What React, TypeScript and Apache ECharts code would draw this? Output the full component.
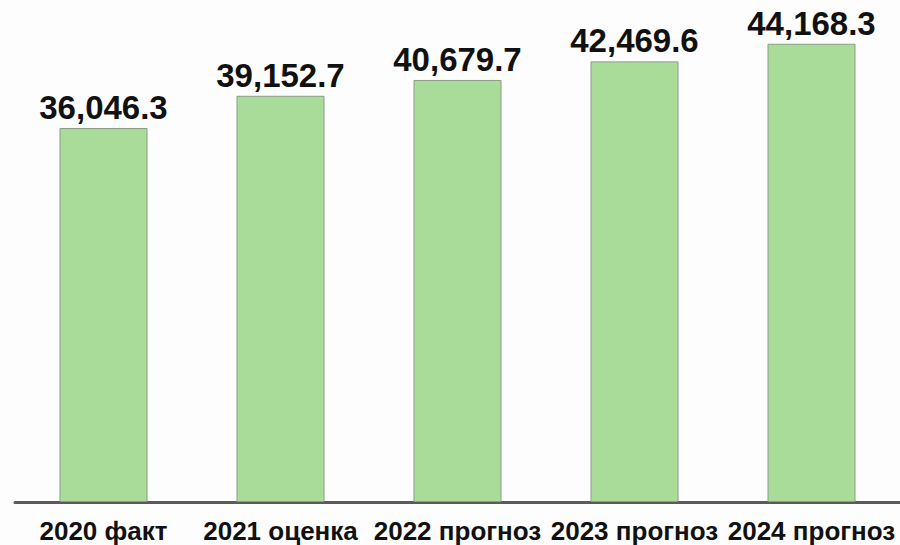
import React, { useEffect, useRef } from "react";
import * as echarts from "echarts";

const categories = ["2020 факт", "2021 оценка", "2022 прогноз", "2023 прогноз", "2024 прогноз"];
const values = [36046.3, 39152.7, 40679.7, 42469.6, 44168.3];

export default function App() {
  const ref = useRef<HTMLDivElement>(null);
  useEffect(() => {
    const chart = echarts.init(ref.current!, null, { renderer: "svg" });
    chart.setOption({
      animation: false,
      backgroundColor: "#fdfdfd",
      grid: { left: 15, right: 0, top: 4, bottom: 43, containLabel: false },
      xAxis: {
        type: "category",
        data: categories,
        axisLine: { show: true, onZero: false, lineStyle: { color: "#5a5a5a", width: 3 } },
        axisTick: { show: false },
        axisLabel: {
          color: "#111",
          fontFamily: "Liberation Sans, Arial, sans-serif",
          fontWeight: "bold",
          fontSize: 26,
          margin: 16,
          interval: 0,
        },
      },
      yAxis: {
        type: "value",
        min: 0,
        max: 48000,
        axisLine: { show: false },
        axisTick: { show: false },
        axisLabel: { show: false },
        splitLine: { show: false },
      },
      series: [
        {
          type: "bar",
          data: values,
          barWidth: 88,
          itemStyle: { color: "#aadc99", borderColor: "#8c9a88", borderWidth: 1 },
          label: {
            show: true,
            position: "top",
            distance: 4,
            color: "#111",
            fontFamily: "Liberation Sans, Arial, sans-serif",
            fontWeight: "bold",
            fontSize: 33,
            formatter: (p: any) =>
              p.value.toLocaleString("en-US", { minimumFractionDigits: 1, maximumFractionDigits: 1 }),
          },
        },
      ],
    });
    return () => chart.dispose();
  }, []);
  return (
    <div
      ref={ref}
      style={{ position: "fixed", left: 0, top: 0, width: 900, height: 545 }}
    />
  );
}
